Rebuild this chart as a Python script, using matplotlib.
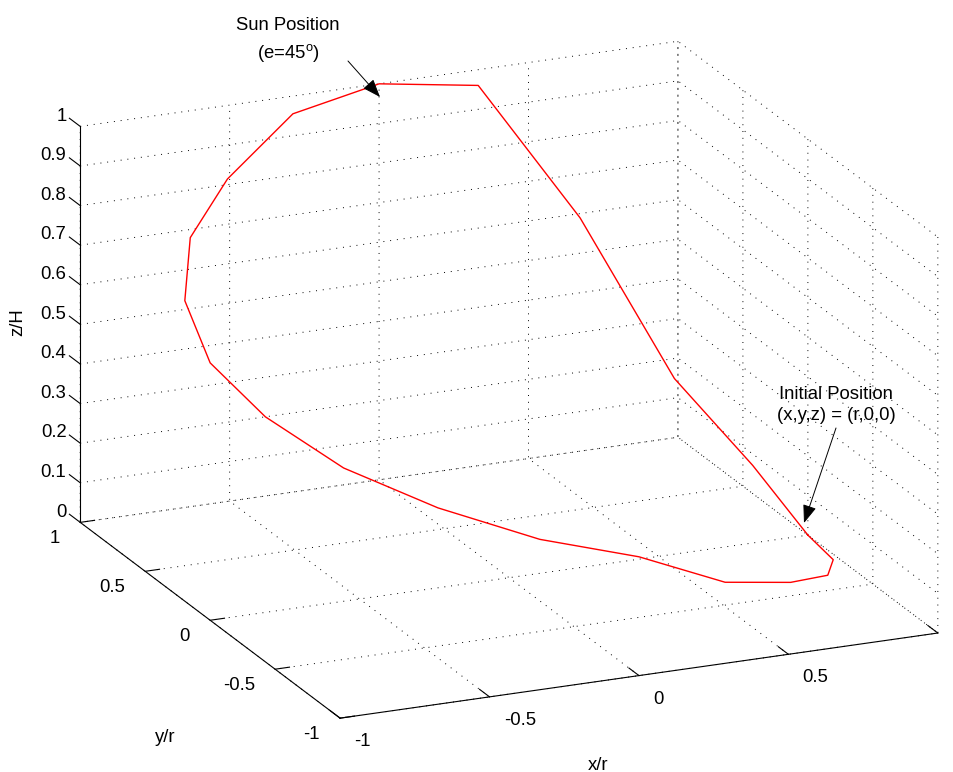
import matplotlib
matplotlib.use("Agg")
import matplotlib.pyplot as plt
from mpl_toolkits.mplot3d import axis3d

plt.rcParams['font.family'] = ['Liberation Sans', 'DejaVu Sans']
plt.rcParams['mathtext.fontset'] = 'custom'
plt.rcParams['mathtext.rm'] = 'Liberation Sans'
plt.rcParams['font.size'] = 13.3

# path of the point
x = [1.00, 0.95, 0.81, 0.59, 0.31, 0.00, -0.31, -0.59, -0.81, -0.95, -1.00,
     -0.95, -0.81, -0.59, -0.31, 0.00, 0.31, 0.59, 0.81, 0.95, 1.00]
y = [0.00, -0.31, -0.59, -0.81, -0.95, -1.00, -0.95, -0.81, -0.59, -0.31, 0.00,
     0.31, 0.59, 0.81, 0.95, 1.00, 0.95, 0.81, 0.59, 0.31, 0.00]
z = [0.00, 0.02, 0.065, 0.125, 0.19, 0.30, 0.365, 0.44, 0.51, 0.585, 0.65,
     0.725, 0.80, 0.87, 0.97, 1.00, 0.975, 0.645, 0.27, 0.105, 0.00]

xticks = [-1, -0.5, 0, 0.5, 1]
xticklabels = ['-1', '-0.5', '0', '0.5', '']
yticks = [-1, -0.5, 0, 0.5, 1]
yticklabels = ['-1', '-0.5', '0', '0.5', '1']
zticks = [0, 0.1, 0.2, 0.3, 0.4, 0.5, 0.6, 0.7, 0.8, 0.9, 1]
zticklabels = ['0', '0.1', '0.2', '0.3', '0.4', '0.5', '0.6', '0.7', '0.8', '0.9', '1']

# z ticks point backwards (along y) like in matlab
axis3d.Axis._AXINFO['z']['tickdir'] = 1

fig = plt.figure(figsize=(9.54, 7.72), dpi=100)
ax = fig.add_axes([-0.0047, -0.157, 1.0482, 1.2953], projection='3d', proj_type='ortho')
ax.view_init(elev=19.12, azim=-113.5)
ax.set_box_aspect((1, 1, 0.643), zoom=0.983)

ax.plot(x, y, z, color='r', lw=1.0)

ax.set_xlim(-1, 1)
ax.set_ylim(-1, 1)
ax.set_zlim(0, 1)
ax.set_xticks(xticks)
ax.set_xticklabels(xticklabels)
ax.set_yticks(yticks)
ax.set_yticklabels(yticklabels)
ax.set_zticks(zticks)
ax.set_zticklabels(zticklabels)

# matlab-like look: no panes, dotted grid, outward ticks
for axis, outf in [(ax.xaxis, 0.48), (ax.yaxis, 0.3), (ax.zaxis, 0.52)]:
    axis.set_pane_color((1, 1, 1, 0))
    axis.pane.set_edgecolor((1, 1, 1, 0))
    axis._axinfo['grid'].update(color='k', linewidth=0.7, linestyle=(0, (1, 6)))
    axis._axinfo['tick']['inward_factor'] = 0.0
    axis._axinfo['tick']['outward_factor'] = outf
    axis._axinfo['tick']['linewidth'] = {True: 0.8, False: 0.5}
    axis.line.set_linewidth(0.8)
    axis.line.set_color('k')
ax.zaxis._axinfo['tickdir'] = 1

ax.xaxis.set_tick_params(pad=12.4)
ax.yaxis.set_tick_params(pad=4.6)
ax.zaxis.set_tick_params(pad=-2)
for lab in ax.get_xticklabels():
    lab.set_ha('left')
    lab.set_va('bottom')
for lab in ax.get_yticklabels():
    lab.set_ha('right')
    lab.set_va('center')
for lab in ax.get_zticklabels():
    lab.set_ha('right')
    lab.set_va('bottom')

fig.text(598 / 954, 1 - 765 / 772, 'x/r', ha='center', va='center')
fig.text(165 / 954, 1 - 738 / 772, 'y/r', ha='center', va='center')
fig.text(18 / 954, 1 - 322 / 772, 'z/H', ha='center', va='center', rotation=90)

arrow = dict(arrowstyle='-|>,head_length=0.8,head_width=0.3', color='k', lw=0.7,
             mutation_scale=14, shrinkA=0, shrinkB=0)
fig.text(288 / 954, 1 - 40.5 / 772, 'Sun Position\n(e=45$^\\mathrm{o}$)', ha='center', va='center',
         linespacing=1.55)
ax.annotate('', xy=(380 / 954, 1 - 97 / 772), xytext=(348 / 954, 1 - 61 / 772),
            xycoords='figure fraction', textcoords='figure fraction', arrowprops=arrow)
fig.text(836 / 954, 1 - 405 / 772, 'Initial Position\n(x,y,z) = (r,0,0)', ha='center', va='center',
         linespacing=1.245)
ax.annotate('', xy=(804 / 954, 1 - 523 / 772), xytext=(836 / 954, 1 - 428 / 772),
            xycoords='figure fraction', textcoords='figure fraction', arrowprops=arrow)

fig.savefig('out.png', dpi=100)
